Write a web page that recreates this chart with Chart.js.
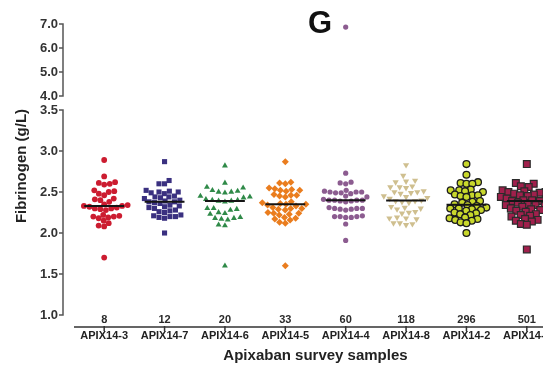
<!DOCTYPE html>
<html>
<head>
<meta charset="utf-8">
<title>Fibrinogen - Apixaban survey samples</title>
<script src="https://cdn.jsdelivr.net/npm/chart.js"></script>
<style>
  html, body { margin: 0; padding: 0; background: #fff; }
  #wrap { width: 543px; height: 365px; overflow: hidden; }
  canvas { display: block; }
</style>
</head>
<body>
<div id="wrap"><canvas id="fibChart" width="600" height="365"></canvas></div>
<script>
const samples = ["APIX14-3", "APIX14-7", "APIX14-6", "APIX14-5", "APIX14-4", "APIX14-8", "APIX14-2", "APIX14-1"]
const sampleCounts = [8, 12, 20, 33, 60, 118, 296, 501]

// fibrinogen results (g/L) reported by each lab, per sample
const apix14_3 = [2.89, 2.69, 2.62, 2.61, 2.6, 2.59, 2.52, 2.51, 2.5, 2.48, 2.46, 2.42, 2.41, 2.4, 2.38, 2.35, 2.34, 2.33,
  2.33, 2.32, 2.31, 2.3, 2.3, 2.29, 2.28, 2.22, 2.21, 2.2, 2.2, 2.19, 2.18, 2.15, 2.12, 2.09, 2.08, 1.7]
const apix14_7 = [2.87, 2.64, 2.6, 2.6, 2.52, 2.51, 2.5, 2.5, 2.49, 2.48, 2.45, 2.44, 2.44, 2.43, 2.42, 2.4, 2.39, 2.38,
  2.38, 2.37, 2.36, 2.34, 2.33, 2.32, 2.31, 2.3, 2.28, 2.27, 2.26, 2.25, 2.22, 2.21, 2.2, 2.2, 2.19, 2.18, 2.0]
const apix14_6 = [2.82, 2.61, 2.56, 2.55, 2.52, 2.51, 2.5, 2.5, 2.49, 2.45, 2.44, 2.43, 2.41, 2.4, 2.4, 2.39, 2.39,
  2.38, 2.3, 2.3, 2.29, 2.28, 2.25, 2.24, 2.23, 2.19, 2.18, 2.18, 2.17, 2.16, 2.1, 2.09, 1.6]
const apix14_5 = [2.87, 2.62, 2.61, 2.6, 2.55, 2.54, 2.53, 2.52, 2.52, 2.51, 2.47, 2.46, 2.46, 2.45, 2.44, 2.38, 2.37,
  2.36, 2.35, 2.35, 2.34, 2.33, 2.31, 2.3, 2.3, 2.29, 2.28, 2.25, 2.24, 2.24, 2.23, 2.22, 2.19, 2.18, 2.17, 2.16, 2.13, 2.12, 1.6]
const apix14_4 = [6.87, 2.73, 2.62, 2.61, 2.6, 2.52, 2.51, 2.5, 2.5, 2.5, 2.49, 2.49, 2.48, 2.45, 2.44, 2.41, 2.4, 2.4,
  2.4, 2.4, 2.39, 2.39, 2.38, 2.31, 2.3, 2.3, 2.3, 2.29, 2.29, 2.28, 2.21, 2.2, 2.2, 2.2, 2.19, 2.19, 2.11, 1.91]
const apix14_8 = [2.83, 2.7, 2.64, 2.63, 2.62, 2.57, 2.56, 2.56, 2.55, 2.51, 2.5, 2.5, 2.49, 2.48, 2.45, 2.44, 2.43,
  2.42, 2.4, 2.39, 2.39, 2.38, 2.37, 2.32, 2.31, 2.3, 2.29, 2.26, 2.25, 2.24, 2.19, 2.18, 2.18, 2.17, 2.12, 2.12, 2.11, 2.1]
const apix14_2 = [2.84, 2.71, 2.62, 2.61, 2.6, 2.6, 2.53, 2.52, 2.52, 2.51, 2.5, 2.47, 2.46, 2.46, 2.45, 2.44, 2.39,
  2.38, 2.37, 2.35, 2.34, 2.33, 2.31, 2.3, 2.3, 2.29, 2.28, 2.27, 2.25, 2.24, 2.23, 2.22, 2.19, 2.18, 2.17, 2.16, 2.15, 2.13, 2.12, 2.0]
const apix14_1 = [2.84, 2.61, 2.6, 2.57, 2.56, 2.52, 2.51, 2.5, 2.5, 2.49, 2.48, 2.47, 2.46, 2.45, 2.44, 2.44, 2.43,
  2.42, 2.41, 2.4, 2.4, 2.39, 2.39, 2.37, 2.35, 2.34, 2.34, 2.33, 2.32, 2.3, 2.29, 2.28, 2.27, 2.26, 2.23, 2.22, 2.21,
  2.2, 2.17, 2.16, 2.15, 2.14, 2.11, 2.1, 1.8]
const fibrinogenValues = [apix14_3, apix14_7, apix14_6, apix14_5, apix14_4, apix14_8, apix14_2, apix14_1]

// broken y axis: lower part 1.0 - 3.5, upper part 4.0 - 7.0
const yBottomTicks = [1.0, 1.5, 2.0, 2.5, 3.0, 3.5]
const yTopTicks = [4.0, 5.0, 6.0, 7.0]
const BREAK_AT = 3.5

const markerStyles = [
  { shape: "circle", radius: 2.9, fill: "#cc1c30", stroke: "#cc1c30", width: 0, gap: 5.6 },
  { shape: "rect", radius: 3.6, fill: "#3a3080", stroke: "#3a3080", width: 0, gap: 5.6 },
  { shape: "triangle", radius: 3.4, fill: "#2f8a48", stroke: "#2f8a48", width: 0, gap: 6.4 },
  { shape: "rectRot", radius: 3.5, fill: "#ea7d1e", stroke: "#ea7d1e", width: 0, gap: 5.8 },
  { shape: "circle", radius: 2.6, fill: "#8c5c90", stroke: "#8c5c90", width: 0, gap: 5.6 },
  { shape: "triangle", radius: 3.6, rotation: 180, fill: "#cfbf8f", stroke: "#cfbf8f", width: 0, gap: 6.4 },
  { shape: "circle", radius: 3.4, fill: "#c9d82c", stroke: "#1c1c1c", width: 1.3, gap: 5.9 },
  { shape: "rect", radius: 4.8, fill: "#a0204c", stroke: "#2b2b2b", width: 1.2, gap: 6 }
]

const FONT = "'Liberation Sans', Arial, sans-serif"
const PX_PER_SAMPLE = 60.4
const PX_PER_GL = 82

function median(values) {
  const s = values.slice().sort(function(a, b) { return a - b })
  const mid = Math.floor(s.length / 2)
  return s.length % 2 ? s[mid] : (s[mid - 1] + s[mid]) / 2
}

// spread each point sideways (in px) so that markers in a column don't overlap
function swarm(values, gap) {
  const order = values.map(function(v, i) { return i }).sort(function(a, b) { return values[a] - values[b] })
  const placed = []
  const xs = new Array(values.length)
  order.forEach(function(i, n) {
    const y = values[i] * PX_PER_GL
    const blocked = []
    placed.forEach(function(p) {
      const dy = Math.abs(p.y - y)
      if (dy < gap) {
        const w = Math.sqrt(gap * gap - dy * dy)
        blocked.push([p.x - w, p.x + w])
      }
    })
    const candidates = [0]
    blocked.forEach(function(b) { candidates.push(b[0], b[1]) })
    const flip = n % 2 === 1
    candidates.sort(function(a, b) {
      return (Math.abs(a) - Math.abs(b)) || (flip ? b - a : a - b)
    })
    const x = candidates.find(function(c) {
      return blocked.every(function(b) { return c <= b[0] + 1e-6 || c >= b[1] - 1e-6 })
    })
    xs[i] = x
    placed.push({ x: x, y: y })
  })
  return xs
}

const datasets = []
fibrinogenValues.forEach(function(values, i) {
  const st = markerStyles[i]
  const xs = swarm(values, st.gap)
  const low = []
  const high = []
  values.forEach(function(v, k) {
    const pt = { x: i + xs[k] / PX_PER_SAMPLE, y: v }
    if (v > BREAK_AT) high.push(pt)
    else low.push(pt)
  })
  const look = {
    type: "scatter",
    pointStyle: st.shape,
    pointRadius: st.radius,
    pointRotation: st.rotation || 0,
    backgroundColor: st.fill,
    borderColor: st.stroke,
    borderWidth: st.width,
    order: 1
  }
  datasets.push(Object.assign({ label: samples[i], data: low, yAxisID: "y" }, look))
  if (high.length) {
    datasets.push(Object.assign({ label: samples[i] + " high", data: high, yAxisID: "yTop" }, look))
  }
  const m = median(values)
  datasets.push({
    type: "line",
    label: samples[i] + " median",
    data: [{ x: i - 0.33, y: m }, { x: i + 0.33, y: m }],
    yAxisID: "y",
    borderColor: "#151515",
    borderWidth: 2,
    pointRadius: 0,
    order: 0
  })
})

// axis lines, counts and headings drawn around the plot
const framePlugin = {
  id: "frame",
  afterDraw: function(chart) {
    const ctx = chart.ctx
    const area = chart.chartArea
    const xs = chart.scales.x
    const yb = chart.scales.y
    const yt = chart.scales.yTop
    const axisX = area.left - 11

    ctx.save()
    ctx.strokeStyle = "#555"
    ctx.lineWidth = 1.5
    function segment(scale, ticks) {
      const top = scale.getPixelForValue(ticks[ticks.length - 1])
      const bottom = scale.getPixelForValue(ticks[0])
      ctx.beginPath()
      ctx.moveTo(axisX, top - 0.75)
      ctx.lineTo(axisX, bottom + 0.75)
      ticks.forEach(function(t) {
        const py = scale.getPixelForValue(t)
        ctx.moveTo(axisX - 4, py)
        ctx.lineTo(axisX, py)
      })
      ctx.stroke()
    }
    segment(yt, yTopTicks)
    segment(yb, yBottomTicks)

    // x axis
    ctx.strokeStyle = "#333"
    ctx.beginPath()
    ctx.moveTo(xs.getPixelForValue(-0.5), area.bottom)
    ctx.lineTo(chart.width, area.bottom)
    samples.forEach(function(s, i) {
      const px = xs.getPixelForValue(i)
      ctx.moveTo(px, area.bottom - 1)
      ctx.lineTo(px, area.bottom + 4)
    })
    ctx.stroke()

    // number above each sample
    ctx.fillStyle = "#2a2a2a"
    ctx.font = "bold 11px " + FONT
    ctx.textAlign = "center"
    ctx.textBaseline = "alphabetic"
    sampleCounts.forEach(function(c, i) {
      ctx.fillText(String(c), xs.getPixelForValue(i), area.bottom - 4)
    })

    // panel letter
    ctx.fillStyle = "#111"
    ctx.font = "bold 31px " + FONT
    ctx.fillText("G", 320, 33)

    // y axis heading
    ctx.translate(22, 166)
    ctx.rotate(-Math.PI / 2)
    ctx.textBaseline = "middle"
    ctx.fillStyle = "#222"
    ctx.font = "bold 15px " + FONT
    ctx.fillText("Fibrinogen (g/L)", 0, 0)
    ctx.restore()
  }
}

const yTickFont = { family: FONT, size: 13, weight: "bold" }

new Chart(document.getElementById("fibChart"), {
  type: "scatter",
  data: { datasets: datasets },
  options: {
    responsive: false,
    animation: false,
    layout: { padding: { top: 24, left: 34, right: 43, bottom: 0 } },
    plugins: { legend: { display: false }, tooltip: { enabled: false } },
    scales: {
      x: {
        type: "linear",
        min: -0.5,
        max: 7.5,
        afterBuildTicks: function(scale) {
          scale.ticks = samples.map(function(s, i) { return { value: i } })
        },
        afterFit: function(scale) { scale.height = 38 },
        ticks: {
          autoSkip: false,
          maxRotation: 0,
          padding: 2,
          color: "#222",
          font: { family: FONT, size: 11, weight: "bold" },
          callback: function(value) { return samples[value] }
        },
        grid: { display: false, drawTicks: false },
        border: { display: false },
        title: {
          display: true,
          text: "Apixaban survey samples",
          color: "#222",
          font: { family: FONT, size: 15, weight: "bold" },
          padding: { top: 0, bottom: 0 }
        }
      },
      y: {
        type: "linear",
        position: "left",
        stack: "fibrinogen",
        stackWeight: 224,
        min: 0.854,
        max: 3.585,
        afterBuildTicks: function(scale) {
          scale.ticks = yBottomTicks.map(function(v) { return { value: v } })
        },
        afterFit: function(scale) { scale.width = 40 },
        ticks: {
          autoSkip: false,
          padding: 16,
          color: "#333",
          font: yTickFont,
          callback: function(value) { return Number(value).toFixed(1) }
        },
        grid: { display: false, drawTicks: false },
        border: { display: false }
      },
      yTop: {
        type: "linear",
        position: "left",
        stack: "fibrinogen",
        stackWeight: 79,
        min: 3.708,
        max: 7.0,
        afterBuildTicks: function(scale) {
          scale.ticks = yTopTicks.map(function(v) { return { value: v } })
        },
        afterFit: function(scale) { scale.width = 40 },
        ticks: {
          autoSkip: false,
          padding: 16,
          color: "#333",
          font: yTickFont,
          callback: function(value) { return Number(value).toFixed(1) }
        },
        grid: { display: false, drawTicks: false },
        border: { display: false }
      }
    }
  },
  plugins: [framePlugin]
})
</script>
</body>
</html>
